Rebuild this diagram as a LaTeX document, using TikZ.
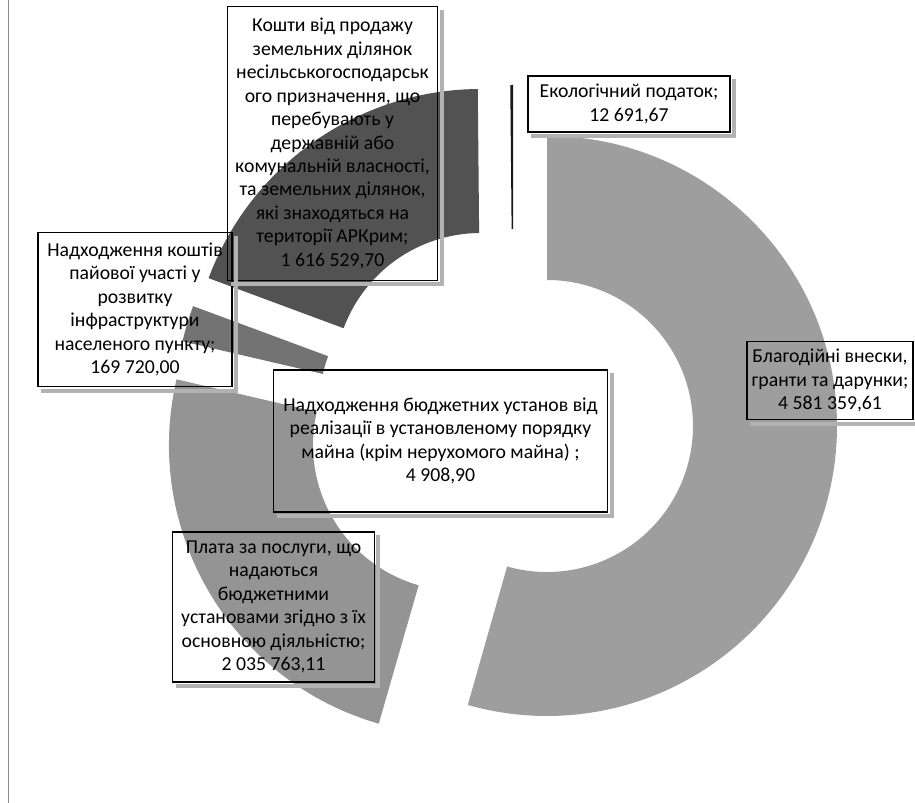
\documentclass[tikz,border=0pt]{standalone}
\usepackage{fontspec}
\setmainfont{Carlito}
\usepackage{tikz}

% one exploded ring piece: centre x, centre y, from, to, colour
\newcommand\donutslice[5]{%
  \fill[#5] (#1,#2) ++(#3:\Ro) arc[start angle=#3,end angle=#4,radius=\Ro]
    -- ([shift={(#4:\Ri)}]#1,#2) arc[start angle=#4,end angle=#3,radius=\Ri] -- cycle;}

\begin{document}
\begin{tikzpicture}[x=0.75pt,y=0.75pt,font=\fontsize{14.8}{17.6}\selectfont]
  \tikzstyle{lbl}=[draw,line width=0.9pt,align=center,inner sep=2pt]
  \tikzstyle{shade}=[draw=black!30,line width=3pt]
  \def\Ro{217.5pt}
  \def\Ri{109.5pt}

  \useasboundingbox (0,0) rectangle (915,803);
  \draw[black!45] (8,0) -- (8,803);

  % ring pieces
  \donutslice{547}{377}{90}{-105.85}{black!38}
  \donutslice{459}{358}{-106.06}{-193.09}{black!42}
  \donutslice{465}{396}{-193.09}{-200.35}{black!55}
  \donutslice{480.5}{424}{-200.35}{-269.46}{black!68}
  \donutslice{513}{428}{-269.46}{-270}{black!90}

  % labels
  \node[lbl,minimum width=158pt,minimum height=205pt] (kosht) at (332.5,659.5)
    {Кошти від продажу\\земельних ділянок\\несільськогосподарськ\\ого призначення, що\\перебувають у\\державній або\\комунальній власності,\\та земельних ділянок,\\які знаходяться на\\території АРКрим;\\1 616 529,70};
  \node[lbl,minimum width=151.5pt,minimum height=42pt] (eko) at (629,699)
    {Екологічний податок;\\12 691,67};
  \node[lbl,minimum width=124.5pt,minimum height=59pt] (blag) at (830,422.5)
    {Благодійні внески,\\гранти та дарунки;\\4 581 359,61};
  \node[lbl,minimum width=145.5pt,minimum height=116pt] (pajova) at (135,493.5)
    {Надходження коштів\\пайової участі у\\розвитку\\інфраструктури\\населеного пункту;\\169 720,00};
  \node[lbl,minimum width=251pt,minimum height=106.5pt] (majno) at (440.5,362)
    {Надходження бюджетних установ від\\реалізації в установленому порядку\\майна (крім нерухомого майна) ;\\4 908,90};
  \node[lbl,minimum width=151pt,minimum height=112.5pt] (plata) at (273.5,196)
    {Плата за послуги, що\\надаються\\бюджетними\\установами згідно з їх\\основною діяльністю;\\2 035 763,11};

  \foreach \n in {kosht,eko,blag,pajova,majno,plata}
    \draw[shade] ([shift={(2.5pt,-3pt)}]\n.north east) |- ([shift={(3pt,-2.5pt)}]\n.south west);
\end{tikzpicture}
\end{document}
